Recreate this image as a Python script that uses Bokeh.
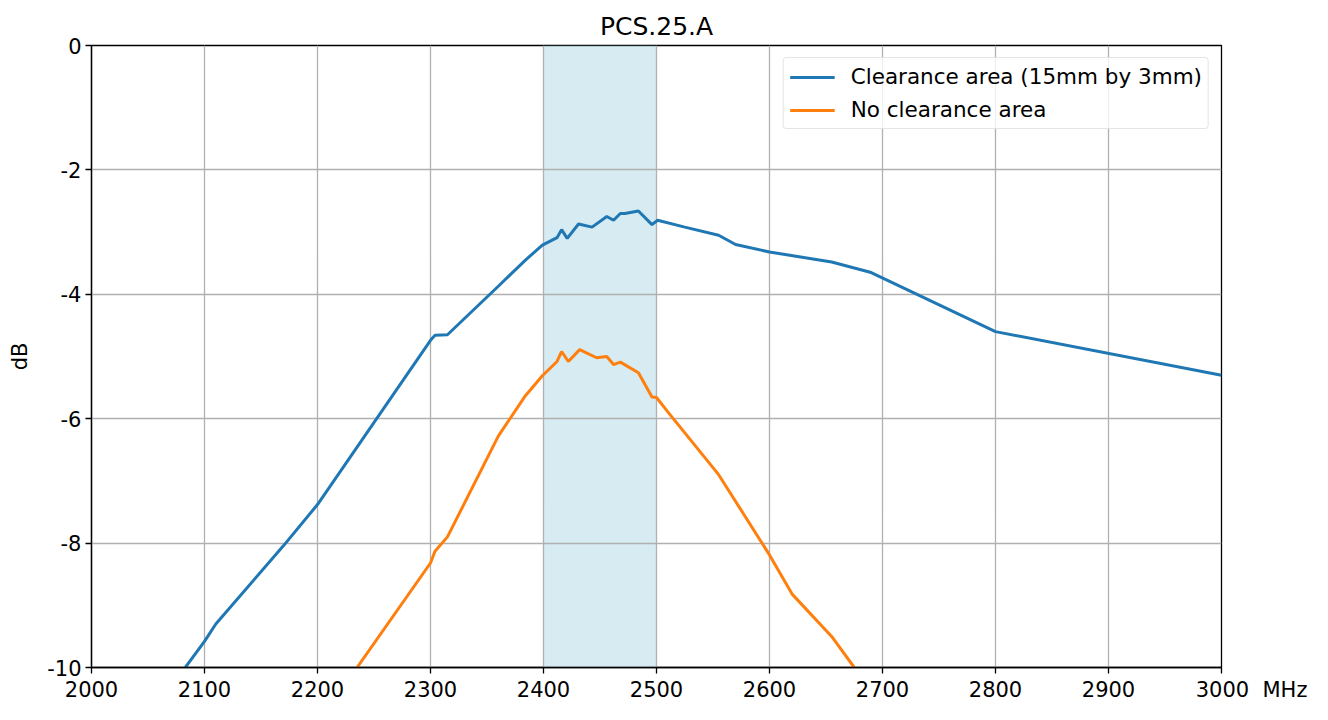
from bokeh.plotting import figure
from bokeh.models import Range1d, Legend, LegendItem, FixedTicker, PrintfTickFormatter
from bokeh.embed import file_html
from bokeh.resources import INLINE

# Clearance area (15mm by 3mm)
freq_a = [2083, 2100, 2110, 2170, 2200, 2300, 2304, 2315, 2360, 2384, 2399, 2412, 2416,
          2421, 2431, 2443, 2456, 2462, 2468, 2472, 2484, 2496, 2501, 2525, 2555, 2570,
          2600, 2655, 2690, 2800, 3000]
db_a = [-10.0, -9.58, -9.3, -8.04, -7.38, -4.74, -4.66, -4.65, -3.87, -3.45, -3.21, -3.09,
        -2.96, -3.10, -2.87, -2.92, -2.75, -2.81, -2.70, -2.70, -2.66, -2.88, -2.81, -2.92,
        -3.05, -3.2, -3.32, -3.48, -3.65, -4.6, -5.3]

# No clearance area
freq_b = [2235, 2300, 2304, 2315, 2360, 2384, 2399, 2412, 2416, 2422, 2432, 2447, 2456,
          2462, 2468, 2484, 2496, 2500, 2510, 2555, 2600, 2620, 2655, 2675]
db_b = [-10.0, -8.32, -8.13, -7.90, -6.28, -5.63, -5.31, -5.08, -4.92, -5.08, -4.89, -5.02,
        -5.0, -5.13, -5.09, -5.26, -5.65, -5.66, -5.89, -6.9, -8.19, -8.82, -9.5, -10.0]

band = [2400, 2500]
x_ticks = [2000, 2100, 2200, 2300, 2400, 2500, 2600, 2700, 2800, 2900, 3000]
y_ticks = [0, -2, -4, -6, -8, -10]
x_unit = "MHz"

FONT = "DejaVu Sans"
TICK_FS = "21px"
NB = "\u00a0"

p = figure(width=1312, height=704, output_backend="svg", toolbar_location=None,
           x_range=Range1d(2000, 3000), y_range=Range1d(-10, 0),
           min_border_left=91, min_border_right=91, min_border_top=45, min_border_bottom=33)

p.title.text = "PCS.25.A"
p.title.align = "center"
p.title.text_font = FONT
p.title.text_font_size = "25px"
p.title.text_font_style = "normal"
p.title.text_color = "black"
p.title.standoff = 10

p.outline_line_color = "black"
p.outline_line_width = 1.3
p.background_fill_color = "white"
p.border_fill_color = "white"

p.quad(left=[band[0]], right=[band[1]], bottom=[-10], top=[0], fill_color="#add8e6",
       fill_alpha=0.5, line_color=None, level="image")

for ax in (p.xaxis, p.yaxis):
    ax.major_label_text_font = FONT
    ax.major_label_text_font_size = TICK_FS
    ax.major_label_text_color = "black"
    ax.major_label_standoff = 4
    ax.axis_line_color = "black"
    ax.axis_line_width = 1.3
    ax.major_tick_line_color = "black"
    ax.major_tick_line_width = 1.3
    ax.major_tick_out = 6
    ax.major_tick_in = 0
    ax.minor_tick_line_color = None
    ax.axis_label_text_font = FONT
    ax.axis_label_text_font_size = TICK_FS
    ax.axis_label_text_font_style = "normal"
    ax.axis_label_text_color = "black"

p.xaxis.ticker = FixedTicker(ticks=x_ticks)
p.yaxis.ticker = FixedTicker(ticks=y_ticks)
p.yaxis.formatter = PrintfTickFormatter(format="%d")
p.xaxis.formatter = PrintfTickFormatter(format="%d")
# unit written right after the last tick label, keeping "3000" centred on its tick
p.xaxis.major_label_overrides = {x_ticks[-1]: NB * 9 + str(x_ticks[-1]) + NB * 2 + x_unit}
p.yaxis.axis_label = "dB"
p.yaxis.axis_label_standoff = 12

p.grid.grid_line_color = "#b0b0b0"
p.grid.grid_line_width = 1.3
p.xgrid.ticker = FixedTicker(ticks=x_ticks)
p.ygrid.ticker = FixedTicker(ticks=y_ticks)

ra = p.line(freq_a, db_a, line_color="#1f77b4", line_width=3)
rb = p.line(freq_b, db_b, line_color="#ff7f0e", line_width=3)

legend = Legend(items=[LegendItem(label="Clearance area (15mm by 3mm)", renderers=[ra]),
                       LegendItem(label="No clearance area", renderers=[rb])],
                location="top_right")
legend.label_text_font = FONT
legend.label_text_font_size = "21.5px"
legend.label_text_color = "black"
legend.glyph_width = 45
legend.glyph_height = 24
legend.label_height = 24
legend.spacing = 8
legend.padding = 6
legend.margin = 12
legend.border_line_color = "#cccccc"
legend.border_line_width = 1.3
legend.border_radius = 4
legend.background_fill_alpha = 0.8
legend.label_standoff = 16
p.add_layout(legend)

open("out.html", "w").write(file_html(p, INLINE))
